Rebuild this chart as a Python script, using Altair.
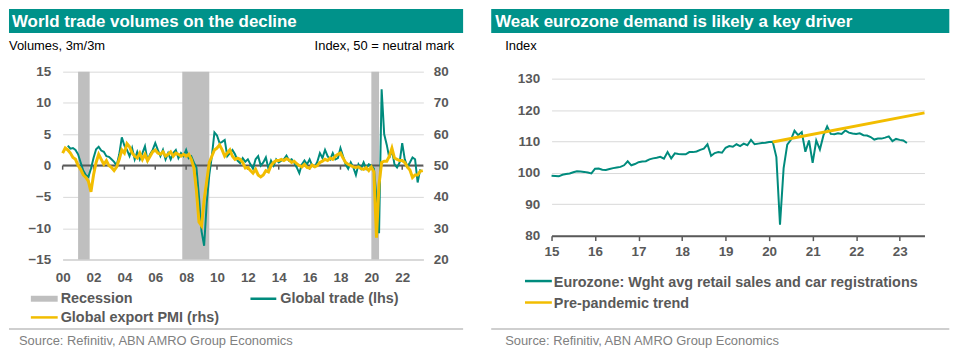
import altair as alt
import pandas as pd

FONT = "Liberation Sans"
HDR = "#00928a"
TEAL = "#008b7d"
YELLOW = "#f2bd00"
TXT = "#595959"
GRID = "#d9d9d9"
REC = "#bfbfbf"
SRC = "#808080"

# ---------------- left panel data (bi-monthly)
trade_start = 2000 + 2 / 6
global_trade = [
    3.2, 2.7, 2.8, 2.5,
    1.8, 0.5, -0.8, -1.5, -1.8, -0.5,
    1.2, 2.6, 3.0, 2.4, 2.2, 1.5,
    1.4, 1.0, 0.6, 0.0, 1.8, 4.5,
    3.2, 2.5, 1.5, 2.8, 1.0, 2.2,
    1.0, 2.0, 3.1, 0.8, 1.8, 2.5,
    3.6, 2.5, 1.5, 2.5, 1.0, 2.0,
    1.0, 2.0, 2.5, 1.2, 2.0, 1.5,
    2.5, 1.2, 1.5, 0.5, -0.3, -5.0,
    -10.5, -12.8, -6.0, -1.5, 1.5, 5.3,
    4.8, 3.6, 3.8, 4.1, 1.5, 2.0,
    2.5, 1.8, 0.8, 0.4, 1.2, 0.6,
    1.0, 0.2, -0.5, 1.0, 1.5, 0.0,
    0.5, 1.3, -0.5, 0.8, 0.0, 1.0,
    0.5, 0.8, 1.0, 1.6, 0.8, 1.0,
    0.5, -0.3, -1.2, 0.2, 0.8, 0.2,
    1.0, 0.0, -0.2, 0.6, 2.0, 1.2,
    2.5, 1.5, 1.0, 2.0, 1.0, 1.2,
    2.8, 1.5, 0.2, -0.5, 0.5, -0.3,
    -1.5, 0.2, -0.5, 0.5, -0.5, 0.2,
    0.0, -0.5, -5.0, -10.8, 12.2, 5.0,
    3.3, 1.2, 2.5, 0.2, -0.3, 0.5,
    3.6, 1.0, -0.2, 0.5, 1.3, 1.0,
    -2.7, -0.6,
]
pmi_start = 2000.0
export_pmi = [
    54, 55.6, 55, 54, 52.6, 52,
    50, 48.8, 47, 46.2, 45, 41.6,
    47, 51, 53.6, 52, 50.4, 51.6,
    50, 49.4, 48.4, 49.6, 52, 55,
    54, 57, 56, 54, 53, 52.4,
    54, 52, 53.6, 51.6, 53, 54.4,
    55, 54, 53.6, 54.4, 53, 53.6,
    54.4, 53, 54, 53.6, 53, 53.6,
    53, 53.6, 52, 49.4, 42, 32,
    30.8, 39, 45, 51, 53, 55,
    55.6, 56.6, 55, 53, 54, 55,
    53, 52, 52.4, 52, 51, 49.2,
    49.4, 48.4, 47.6, 48.8, 47, 46.4,
    47, 48.4, 48, 50, 51, 51.6,
    51.6, 52, 51.6, 52.2, 51.8, 51,
    51.4, 50.6, 50, 49.6, 50.4, 49.4,
    49.2, 50.2, 49.6, 50, 51, 51.4,
    52, 51.6, 52.4, 52, 53, 53.6,
    54, 52.4, 51, 50.4, 50, 49.6,
    49.4, 49.6, 49, 48.8, 49.4, 48.4,
    49.6, 48, 27, 44, 51, 51.4,
    51.4, 53, 55.6, 52.4, 52, 51.6,
    51.6, 51, 49.6, 48.6, 46.2, 47,
    47, 48.2, 48.4,
]
recession_start = [2001.0, 2007.75, 2020.0]
recession_end = [2001.75, 2009.5, 2020.5]
left_x_ticks = list(range(2000, 2023, 2))
left_y_ticks = [-15, -10, -5, 0, 5, 10, 15]
right_y_ticks = [20, 30, 40, 50, 60, 70, 80]

# ---------------- right panel data (monthly)
ez_start = 2015.0
ez_index = [
    99.1, 99.0, 98.9, 99.4, 99.6, 99.8, 100.2, 100.5, 100.4, 100.3, 100.1, 99.8,
    101.3, 101.4, 101.0, 100.9, 101.2, 101.5, 101.7, 101.9, 102.4, 103.7, 102.4, 102.8,
    103.4, 103.6, 103.7, 104.3, 104.6, 104.8, 105.1, 104.5, 106.6, 104.6, 106.2, 106.0,
    105.9, 105.9, 106.6, 106.6, 106.8, 107.3, 107.7, 109.1, 105.4, 106.3, 106.6, 106.4,
    108.0, 108.5, 108.3, 109.1, 108.5, 109.3, 108.8, 110.5, 109.1, 109.3, 109.5, 109.6,
    109.8, 109.9, 105.0, 83.5, 101.5, 109.0, 110.5, 113.4, 112.0, 113.0, 106.7, 110.3,
    103.2, 110.3, 107.4, 112.0, 114.8, 112.4, 112.3, 112.6, 112.4, 113.5, 112.8, 112.5,
    112.4, 112.6, 112.0, 111.9, 111.4, 110.6, 110.9, 110.9, 111.2, 111.6, 110.1, 110.8,
    110.5, 110.3, 109.5,
]
trend_x = [2020.08, 2023.57]
trend_y = [109.8, 119.1]
right_x_ticks = list(range(2015, 2024))
ez_y_ticks = [80, 90, 100, 110, 120, 130]

ONE = pd.DataFrame({"a": [0]})


def text(t, x, y, size, color, weight="normal", align="left", baseline="alphabetic"):
    return alt.Chart(ONE).mark_text(
        text=t, align=align, baseline=baseline, font=FONT, fontSize=size,
        fontWeight=weight, color=color,
    ).encode(x=alt.value(x), y=alt.value(y))


def box(x0, x1, y0, y1, color):
    return alt.Chart(ONE).mark_rect(color=color).encode(
        x=alt.value(x0), x2=alt.value(x1), y=alt.value(y0), y2=alt.value(y1))


def hline(x0, x1, y, color, w):
    return alt.Chart(ONE).mark_rule(color=color, strokeWidth=w).encode(
        x=alt.value(x0), x2=alt.value(x1), y=alt.value(y))


# ================= LEFT PANEL
W1, H1 = 363, 189
df_trade = pd.DataFrame({"t": [trade_start + i / 6 for i in range(len(global_trade))], "v": global_trade})
df_pmi = pd.DataFrame({"t": [pmi_start + i / 6 for i in range(len(export_pmi))], "p": export_pmi})
df_rec = pd.DataFrame({"t": recession_start, "e": recession_end})
df_zero = pd.DataFrame({"v": [0]})
df_ticks = pd.DataFrame({"t": left_x_ticks, "v": [0] * len(left_x_ticks), "w": [-0.65] * len(left_x_ticks)})

xscale1 = alt.Scale(domain=[2000, 2023.37], nice=False, zero=False)
xaxis1 = alt.Axis(values=left_x_ticks, labelExpr="substring(toString(datum.value), 2)",
                  grid=False, ticks=False, domainColor=GRID, domainWidth=2,
                  labelPadding=11, labelFlush=False, labelOverlap=False, title=None)
yscale1 = alt.Scale(domain=[-15, 15], nice=False, zero=False)
yaxis1 = alt.Axis(orient="left", values=left_y_ticks, grid=True, gridColor=GRID, gridWidth=1,
                  domain=False, ticks=False, labelPadding=12, title=None)


def X1(f):
    return alt.X(f, scale=xscale1, axis=xaxis1)


def Y1(f):
    return alt.Y(f, scale=yscale1, axis=yaxis1)


rec = alt.Chart(df_rec).mark_rect(color=REC).encode(
    x=X1("t:Q"), x2="e:Q", y=alt.value(0), y2=alt.value(H1))
zero = alt.Chart(df_zero).mark_rule(color=TXT, strokeWidth=2).encode(y=Y1("v:Q"))
ticks = alt.Chart(df_ticks).mark_rule(color=TXT, strokeWidth=1.5).encode(
    x=X1("t:Q"), y=Y1("v:Q"), y2="w:Q")
trade = alt.Chart(df_trade).mark_line(color=TEAL, strokeWidth=2).encode(x=X1("t:Q"), y=Y1("v:Q"))
core1 = alt.layer(rec, zero, ticks, trade)

pmi = alt.Chart(df_pmi).mark_line(color=YELLOW, strokeWidth=3).encode(
    x=X1("t:Q"),
    y=alt.Y("p:Q", scale=alt.Scale(domain=[20, 80], nice=False, zero=False),
            axis=alt.Axis(orient="right", values=right_y_ticks, grid=False, domain=False,
                          ticks=False, labelPadding=10, title=None)))

deco1 = [
    box(-54, 403, -63, -39, HDR),
    text("World trade volumes on the decline", -51, -45, 17, "white", "bold"),
    text("Volumes, 3m/3m", -54, -21.7, 13, "black"),
    text("Index, 50 = neutral mark", 394, -21.7, 13, "black", align="right"),
    box(-32, -5, 225.5, 231.5, REC),
    text("Recession", -2, 233, 14.5, TXT, "bold"),
    hline(189, 215, 228.5, TEAL, 2.5),
    text("Global trade (lhs)", 219, 233, 14.5, TXT, "bold"),
    hline(-32, -5, 247.3, YELLOW, 2.5),
    text("Global export PMI (rhs)", -2, 252, 14.5, TXT, "bold"),
    hline(-54, 403, 259, REC, 1.5),
    text("Source: Refinitiv, ABN AMRO Group Economics", -44, 275, 13, SRC),
]
left = alt.layer(core1, pmi, *deco1).resolve_scale(y="independent").properties(width=W1, height=H1)

# ================= RIGHT PANEL
# plot origin shares the left panel's top (page y 71); the 130 line sits 7px lower
W2, H2 = 375.3, 165
Y_TOP = 130 + 7 / 3.16
df_ez = pd.DataFrame({"t": [ez_start + i / 12 for i in range(len(ez_index))], "v": ez_index})
df_tr = pd.DataFrame({"t": trend_x, "v": trend_y})
xscale2 = alt.Scale(domain=[2015, 2023.57], nice=False, zero=False)
xaxis2 = alt.Axis(values=right_x_ticks, labelExpr="substring(toString(datum.value), 2)",
                  grid=False, ticks=True, tickColor=TXT, tickSize=5, tickWidth=1.5,
                  domainColor=TXT, domainWidth=2, labelPadding=4, labelFlush=False,
                  labelOverlap=False, title=None, zindex=1)
yscale2 = alt.Scale(domain=[80, Y_TOP], nice=False, zero=False)
yaxis2 = alt.Axis(values=ez_y_ticks, grid=True, gridColor=GRID, gridWidth=1, domain=False,
                  ticks=False, labelPadding=12, title=None)

ez = alt.Chart(df_ez).mark_line(color=TEAL, strokeWidth=2).encode(
    x=alt.X("t:Q", scale=xscale2, axis=xaxis2), y=alt.Y("v:Q", scale=yscale2, axis=yaxis2))
tr = alt.Chart(df_tr).mark_line(color=YELLOW, strokeWidth=3).encode(
    x=alt.X("t:Q", scale=xscale2, axis=xaxis2), y=alt.Y("v:Q", scale=yscale2, axis=yaxis2))

deco2 = [
    box(-60.7, 400.3, -63, -39, HDR),
    text("Weak eurozone demand is likely a key driver", -56.7, -45, 17, "white", "bold"),
    text("Index", -46.7, -21.7, 13, "black"),
    hline(-26.7, 0.3, 210.7, TEAL, 2.5),
    text("Eurozone: Wght avg retail sales and car registrations", 2.3, 216.3, 14.5, TXT, "bold"),
    hline(-26.7, 0.3, 232.3, YELLOW, 2.5),
    text("Pre-pandemic trend", 2.3, 238, 14.5, TXT, "bold"),
    hline(-60.7, 400.3, 259, REC, 1.5),
    text("Source: Refinitiv, ABN AMRO Group Economics", -46.7, 275, 13, SRC),
]
right = alt.layer(ez, tr, *deco2).properties(width=W2, height=H2)

chart = alt.hconcat(left, right, spacing=26).properties(padding=0).configure_view(
    stroke=None
).configure_axis(
    labelFont=FONT, labelFontSize=13.5, labelFontWeight="bold", labelColor=TXT
)

chart.save("out.html", embed_options={"renderer": "svg", "actions": False})
